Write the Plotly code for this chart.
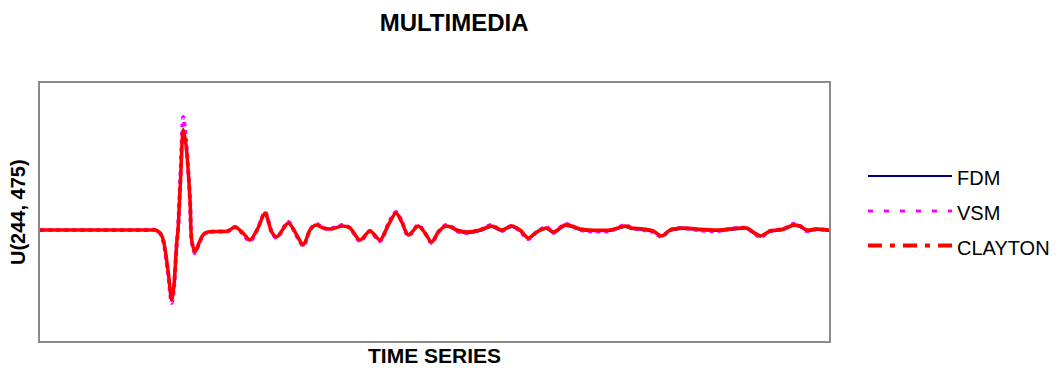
import plotly.graph_objects as go

# Displacement traces at receiver U(244, 475) for three boundary schemes
t = [0, 60, 100, 110, 115, 120, 123.3, 128.3, 131.7, 134, 136.7, 138, 140.5, 143.3, 146, 150,
     151.7, 155, 159, 163, 168, 188, 195, 203, 210, 218, 225, 231.7, 236.7, 248.3, 256.7,
     263.3, 270, 276, 283.3, 290, 303.3, 310, 320, 330, 340, 348.3, 356, 361.7, 368.3,
     378.3, 385, 391.7, 398.3, 406, 413.3, 416.7, 426.7, 440, 451.7, 461.7, 471.7, 480,
     488.3, 496.7, 506.7, 513.3, 525, 531.7, 540, 570, 585, 591.7, 603.3, 613.3, 621.7,
     630, 643.3, 656.7, 676.7, 690, 706.7, 713.3, 720.7, 730, 743.3, 753.3, 760, 766.7,
     776.7, 789]

clayton = [0, 0, 0, 0, 0, -0.03, -0.10, -0.43, -0.70, -0.55, -0.13, 0, 0.50, 1.00, 0.85, 0.30,
           -0.10, -0.22, -0.13, -0.05, -0.02, -0.01, 0.03, -0.03, -0.10, 0.02, 0.17, -0.02,
           -0.07, 0.07, -0.05, -0.15, 0.0, 0.05, 0.02, 0.01, 0.04, 0.02, -0.10, -0.01, -0.10,
           0.05, 0.17, 0.08, -0.05, 0.04, -0.03, -0.12, -0.02, 0.04, 0.02, 0.0, -0.02, 0.0,
           0.04, 0.0, 0.04, 0.0, -0.08, -0.02, 0.02, -0.02, 0.05, 0.04, 0.01, 0.0, 0.04, 0.02,
           0.01, -0.01, -0.06, 0.0, 0.02, 0.01, 0.0, 0.01, 0.02, -0.02, -0.06, -0.01, 0.01,
           0.05, 0.04, 0.0, 0.01, 0.0]

vsm = [0, 0, 0, 0, 0, -0.03, -0.11, -0.45, -0.73, -0.57, -0.14, 0, 0.55, 1.13, 0.90, 0.31,
       -0.11, -0.23, -0.14, -0.05, -0.02, -0.01, 0.03, -0.04, -0.11, 0.02, 0.18, -0.02,
       -0.08, 0.08, -0.06, -0.16, 0.0, 0.06, 0.02, 0.01, 0.05, 0.02, -0.11, -0.01, -0.11,
       0.06, 0.18, 0.09, -0.06, 0.05, -0.03, -0.13, -0.02, 0.05, 0.02, -0.01, -0.03, 0.0,
       0.05, -0.01, 0.04, -0.01, -0.09, -0.02, 0.03, -0.03, 0.06, 0.04, 0.0, -0.01, 0.05,
       0.02, 0.0, -0.02, -0.07, 0.0, 0.02, 0.0, -0.01, 0.01, 0.02, -0.03, -0.07, -0.01,
       0.01, 0.06, 0.04, -0.01, 0.01, -0.01]

fdm = [0, 0, 0, 0, 0, -0.03, -0.10, -0.43, -0.71, -0.55, -0.13, 0, 0.50, 1.01, 0.85, 0.30,
       -0.10, -0.22, -0.13, -0.05, -0.02, -0.01, 0.03, -0.03, -0.10, 0.02, 0.17, -0.02,
       -0.07, 0.07, -0.05, -0.15, 0.0, 0.05, 0.02, 0.01, 0.04, 0.02, -0.10, -0.01, -0.10,
       0.05, 0.17, 0.08, -0.05, 0.04, -0.03, -0.12, -0.02, 0.04, 0.01, -0.01, -0.03, -0.01,
       0.03, -0.01, 0.03, -0.01, -0.08, -0.02, 0.01, -0.03, 0.04, 0.03, 0.0, -0.01, 0.03,
       0.01, 0.0, -0.02, -0.06, -0.01, 0.01, 0.0, -0.01, 0.0, 0.01, -0.03, -0.06, -0.02,
       0.0, 0.04, 0.03, -0.01, 0.0, -0.01]

series_names = ["FDM", "VSM", "CLAYTON"]
series_colors = ["#000080", "#ff00ff", "#ff0000"]
legend_dash = ["solid", "5px,11px", "14px,8px,5px,8px"]

FONT = "Liberation Sans, Arial, sans-serif"

fig = go.Figure()
fig.add_trace(go.Scatter(x=t, y=fdm, mode="lines", name="FDM", showlegend=False,
                         line=dict(color=series_colors[0], width=2, shape="spline",
                                   smoothing=0.8)))
fig.add_trace(go.Scatter(x=t, y=vsm, mode="lines", name="VSM", showlegend=False,
                         line=dict(color=series_colors[1], width=4, dash="dot", shape="spline",
                                   smoothing=0.8)))
fig.add_trace(go.Scatter(x=t, y=clayton, mode="lines", name="CLAYTON", showlegend=False,
                         line=dict(color=series_colors[2], width=3.5, shape="spline",
                                   smoothing=0.8)))

# Legend drawn at the right of the frame with long sample lines
shapes = []
annotations = []
legend_y = [0.6395, 0.5039, 0.3702]
widths = [2, 3, 4]
for name, color, dash, yy, w in zip(series_names, series_colors, legend_dash, legend_y, widths):
    shapes.append(dict(type="line", xref="paper", yref="paper", x0=1.0494, x1=1.1559,
                       y0=yy, y1=yy, line=dict(color=color, width=w, dash=dash)))
    annotations.append(dict(xref="paper", yref="paper", x=1.1597, y=yy - 0.008, text=name,
                            showarrow=False, xanchor="left", yanchor="middle",
                            font=dict(family=FONT, size=20, color="#000000")))

annotations.append(dict(xref="paper", yref="paper", x=0.5, y=-0.058, text="<b>TIME SERIES</b>",
                        showarrow=False, xanchor="center", yanchor="middle",
                        font=dict(family=FONT, size=21, color="#000000")))
annotations.append(dict(xref="paper", yref="paper", x=-0.0279, y=0.5, text="<b>U(244, 475)</b>",
                        showarrow=False, xanchor="center", yanchor="middle", textangle=-90,
                        font=dict(family=FONT, size=20, color="#000000")))

fig.update_layout(
    width=1061, height=370,
    margin=dict(l=40, r=232, t=83, b=29),
    paper_bgcolor="white", plot_bgcolor="white",
    title=dict(text="<b>MULTIMEDIA</b>", x=0.428, xref="container", xanchor="center",
               y=0.938, yref="container", yanchor="middle",
               font=dict(family=FONT, size=24, color="#000000")),
    shapes=shapes, annotations=annotations,
    showlegend=False,
)
axis_style = dict(showgrid=False, zeroline=False, showticklabels=False, ticks="",
                  showline=True, mirror=True, linecolor="#8a8a8a", linewidth=2)
fig.update_xaxes(range=[0, 789], **axis_style)
fig.update_yaxes(range=[-1.11, 1.47], **axis_style)

fig.write_html("out.html")
